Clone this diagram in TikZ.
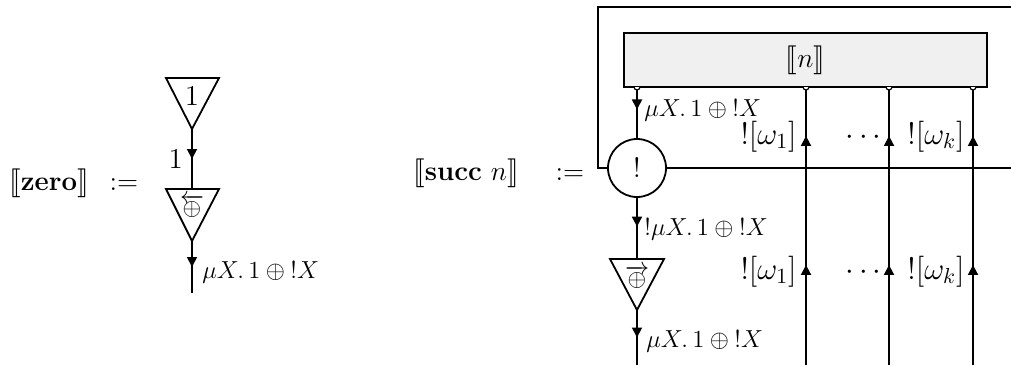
\RequirePackage{fix-cm}
\documentclass[tikz,border=0pt]{standalone}
\usepackage{stmaryrd}
\usetikzlibrary{arrows.meta,decorations.markings}
\tikzset{
  wire/.style={line width=0.9pt},
  tri/.style={line width=0.9pt, line join=miter},
  lab/.style={inner sep=0pt, font=\fontsize{12.3}{15}\selectfont},
  wlab/.style={inner sep=0pt, font=\fontsize{15.5}{17}\selectfont},
  inlab/.style={inner sep=0pt, font=\fontsize{12}{14}\selectfont},
  onelab/.style={inner sep=0pt, font=\fontsize{14.4}{16}\selectfont},
  big/.style={inner sep=0pt, font=\fontsize{13.8}{16}\selectfont},
  tip/.tip={Triangle[width=5pt,length=5pt]},
  arrowat/.style={postaction={decorate},decoration={markings,mark=at position #1 with {\arrow{tip}}}},
  arrowtwo/.style 2 args={postaction={decorate},decoration={markings,
      mark=at position #1 with {\arrow{tip}},
      mark=at position #2 with {\arrow{tip}}}},
  port/.style={line width=0.6pt, fill=white},
}
\begin{document}
\begin{tikzpicture}[x=0.5pt,y=-0.5pt]
\useasboundingbox (0,0) rectangle (1011,365);

% ---------- left: zero ----------
\node[big, anchor=base] (zero) at (49,190) {$\llbracket\mathbf{zero}\rrbracket$};
\node[big, anchor=base] (defz) at (124,190) {$:=$};

\draw[tri] (166,78) -- (219,78) -- (192,129) -- cycle;
\node[onelab] (one) at (192,96) {$1$};
\coordinate (t1) at (192,129);
\coordinate (t2top) at (192,189);
\draw[tri] (166,189) -- (219,189) -- (192,241) -- cycle;
\node[inlab] (plusl) at (192,206) {$\overleftarrow{\oplus}$};
\coordinate (t2) at (192,241);
\coordinate (zend) at (192,293);

\draw[wire, arrowat=0.5] (t1) -- (t2top);
\node[onelab, anchor=base east] (l1) at (183,168) {$1$};
\draw[wire, arrowat=0.5] (t2) -- (zend);
\node[lab, anchor=base west] (lz) at (202,278) {$\mu X.\,1 \oplus {!}X$};

% ---------- right: succ n ----------
\node[big, anchor=base] (succ) at (466,180) {$\llbracket\mathbf{succ}\ n\rrbracket$};
\node[big, anchor=base] (defs) at (570,180) {$:=$};

\node[draw, fill=black!6, line width=1.1pt, minimum width=181.5pt, minimum height=27pt, inner sep=0pt] (nbox) at (805.5,60) {};
\node[big] (nlab) at (805.5,60) {$\llbracket n\rrbracket$};
\coordinate (p0) at (637,87);
\coordinate (p1) at (806,87);
\coordinate (p2) at (889,87);
\coordinate (p3) at (973,87);

\node[draw, circle, line width=0.9pt, fill=white, minimum size=29pt, inner sep=0pt, font=\fontsize{14}{16}\selectfont] (bang) at (637,168) {$!$};

\draw[wire] (bang.west) -- (598,168) -- (598,7) -- (1011,7);
\draw[wire] (bang.east) -- (1011,168);

\draw[wire, arrowat=0.44] (p0) -- (bang.north);
\node[lab, anchor=base west] (la) at (644,116) {$\mu X.\,1 \oplus {!}X$};

\draw[tri] (610,259) -- (664,259) -- (637,310) -- cycle;
\node[inlab] (plusr) at (637,277) {$\overrightarrow{\oplus}$};
\coordinate (t3top) at (637,259);
\coordinate (t3) at (637,310);
\coordinate (send) at (637,365);

\draw[wire, arrowat=0.47] (bang.south) -- (t3top);
\node[lab, anchor=base west] (lb) at (644,235) {${!}\mu X.\,1 \oplus {!}X$};
\draw[wire, arrowat=0.5] (t3) -- (send);
\node[lab, anchor=base west] (lc) at (646,347) {$\mu X.\,1 \oplus {!}X$};

\coordinate (b1) at (806,365);
\coordinate (b2) at (889,365);
\coordinate (b3) at (973,365);
\draw[wire, arrowtwo={0.36}{0.824}] (b1) -- (p1);
\draw[wire, arrowtwo={0.36}{0.824}] (b2) -- (p2);
\draw[wire, arrowtwo={0.36}{0.824}] (b3) -- (p3);

\foreach \px in {637,806,889,973}
  \draw[port] (\px-3,87) arc[start angle=180, end angle=0, radius=3];

\node[wlab, anchor=base east] (w1a) at (797,144) {${!}[\omega_1]$};
\node[wlab, anchor=base east] (dta) at (882,144) {$\cdots$};
\node[wlab, anchor=base east] (wka) at (965,144) {${!}[\omega_k]$};
\node[wlab, anchor=base east] (w1b) at (797,279) {${!}[\omega_1]$};
\node[wlab, anchor=base east] (dtb) at (882,279) {$\cdots$};
\node[wlab, anchor=base east] (wkb) at (965,279) {${!}[\omega_k]$};
\end{tikzpicture}
\end{document}
